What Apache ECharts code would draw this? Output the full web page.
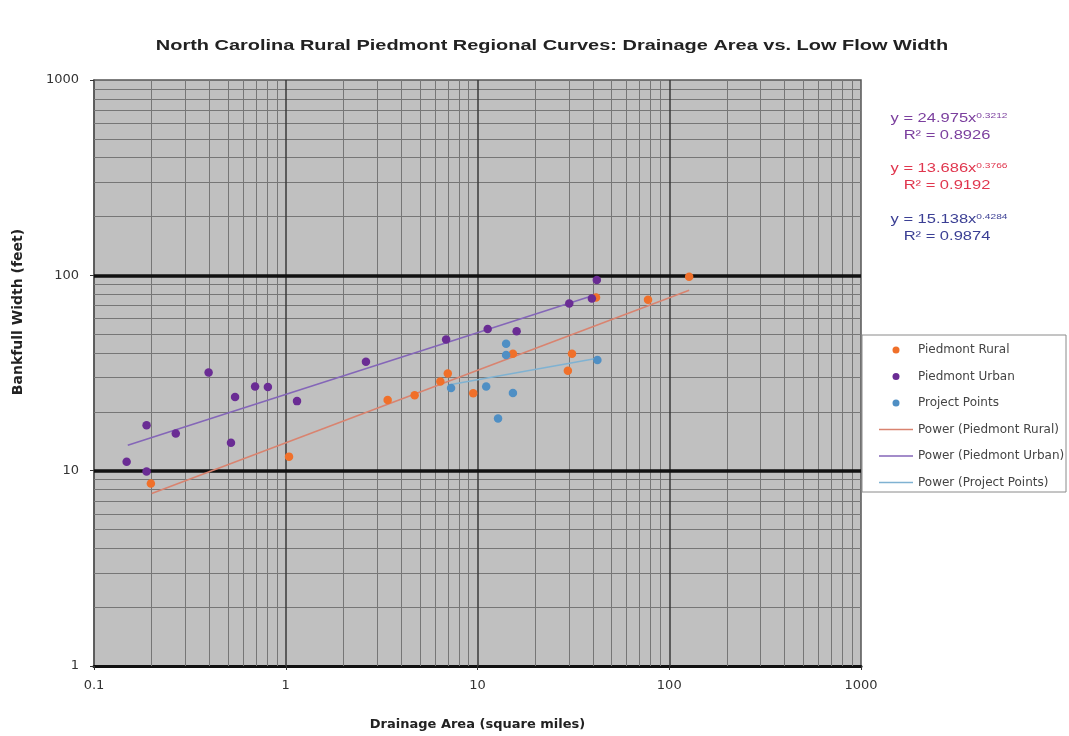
<!DOCTYPE html>
<html><head><meta charset="utf-8">
<script src="https://cdn.jsdelivr.net/npm/echarts@6/dist/echarts.min.js"></script>
<style>html,body{margin:0;padding:0;background:#fff;overflow:hidden}#c{width:1069px;height:736px}</style>
</head><body><div id="c"></div>
<script>
// ---- data ----
const ruralPoints = [[0.198,8.6],[1.04,11.8],[3.4,23.0],[4.7,24.3],[6.4,28.6],[7.0,31.4],[9.5,24.9],[15.3,39.7],[29.6,32.5],[31.1,39.7],[41.5,77],[77.5,75],[127,98.4]];
const urbanPoints = [[0.148,11.1],[0.188,17.1],[0.188,9.9],[0.267,15.5],[0.396,31.8],[0.544,23.8],[0.518,13.9],[0.692,27.0],[0.807,26.8],[1.145,22.7],[2.62,36.1],[6.86,46.9],[11.3,53.1],[16.0,51.7],[30.1,71.8],[39.5,76],[41.9,94.6]];
const projectPoints = [[7.28,26.5],[11.1,27.0],[12.8,18.5],[14.1,44.7],[14.1,39.1],[15.3,25.0],[42.2,36.9]];
const ruralTrend = [[0.2,7.65],[127,83.9]];
const urbanTrend = [[0.15,13.5],[42,80]];
const projectTrend = [[7.28,27.6],[42.2,37.6]];
const xTickLabels = ['0.1','1','10','100','1000'];
const yTickLabels = ['1','10','100','1000'];
const xDecades = [0.1,1,10,100];
const yDecades = [1,10,100];
const mantissas = [2,3,4,5,6,7,8,9];
const seriesNames = ['Piedmont Rural','Piedmont Urban','Project Points','Power (Piedmont Rural)','Power (Piedmont Urban)','Power (Project Points)'];
const equations = [
  {eq:'24.975', exp:'0.3212', r2:'0.8926'},
  {eq:'13.686', exp:'0.3766', r2:'0.9192'},
  {eq:'15.138', exp:'0.4284', r2:'0.9874'}
];
const titleText = 'North Carolina Rural Piedmont Regional Curves: Drainage Area vs. Low Flow Width';

const FONT = 'Liberation Sans, Arial, sans-serif';
const WIDE = 'DejaVu Sans, sans-serif';
const minorLine = {color:'#767676', width:1, type:'solid'};
const gridLines = [];
xDecades.forEach(d => mantissas.forEach(m => gridLines.push({xAxis: +(d*m).toPrecision(3), lineStyle: minorLine})));
yDecades.forEach(d => mantissas.forEach(m => gridLines.push({yAxis: +(d*m).toPrecision(3), lineStyle: minorLine})));
[1,10,100].forEach(v => gridLines.push({xAxis: v, lineStyle:{color:'#3a3a3a', width:1.5, type:'solid'}}));
[10,100].forEach(v => gridLines.push({yAxis: v, lineStyle:{color:'#111', width:3.5, type:'solid'}}));

const chart = echarts.init(document.getElementById('c'));
const eqColors = ['#7b3f9e','#e0364e','#3b3f94'];
const lineColors = ['#d9836f','#8466b8','#7fb2d2'];
const graphics = [
  {type:'rect', z:0, shape:{x:862, y:335, width:204, height:157}, style:{fill:'#fff', stroke:'#8a8a8a', lineWidth:1}},
  {type:'text', x:552, y:46, scaleX:1.33, style:{text:titleText, font:'bold 15px '+FONT, fill:'#222', align:'center', verticalAlign:'middle'}},
  {type:'text', x:18, y:312, rotation:Math.PI/2, style:{text:'Bankfull Width (feet)', font:'bold 14px '+WIDE, fill:'#222', align:'center', verticalAlign:'middle'}}
];
const eqY = [118,168,219];
equations.forEach((e,i) => {
  graphics.push({type:'text', x:949, y:eqY[i], scaleX:1.27, style:{text:'y = '+e.eq+'x{sup|'+e.exp+'}', font:'13px '+FONT, fill:eqColors[i], align:'center', verticalAlign:'middle', rich:{sup:{fontSize:8, verticalAlign:'top', fill:eqColors[i], fontFamily:FONT}}}});
  graphics.push({type:'text', x:947, y:eqY[i]+17, scaleX:1.27, style:{text:'R² = '+e.r2, font:'13px '+FONT, fill:eqColors[i], align:'center', verticalAlign:'middle'}});
});

chart.setOption({
  animation:false,
  backgroundColor:'#fff',
  grid:{left:94, right:208, top:80, bottom:63, show:true, backgroundColor:'#c0c0c0', borderColor:'#555', borderWidth:1.5},
  xAxis:{type:'log', logBase:10, min:0.1, max:1000, interval:1,
    name:'Drainage Area (square miles)', nameLocation:'middle', nameGap:52,
    nameTextStyle:{fontFamily:WIDE, fontSize:13, fontWeight:'bold', color:'#222'},
    axisLine:{show:true, lineStyle:{color:'#111', width:3}},
    axisTick:{show:true, length:4, lineStyle:{color:'#333'}},
    splitLine:{show:false}, minorTick:{show:false},
    axisLabel:{fontFamily:WIDE, fontSize:13, color:'#333', margin:13, formatter:(v,i)=>xTickLabels[i] ?? String(v)}},
  yAxis:{type:'log', logBase:10, min:1, max:1000, interval:1,
    axisLine:{show:true, lineStyle:{color:'#555', width:1.5}},
    axisTick:{show:true, length:4, lineStyle:{color:'#333'}},
    splitLine:{show:false},
    axisLabel:{fontFamily:WIDE, fontSize:13, color:'#333', margin:15, formatter:(v,i)=>yTickLabels[i] ?? String(v)}},
  legend:{orient:'vertical', left:874, top:339, itemWidth:34, itemHeight:7, itemGap:14.5, z:10,
    textStyle:{fontFamily:WIDE, fontSize:12, color:'#444'},
    data:[
      {name:seriesNames[0], icon:'circle'},
      {name:seriesNames[1], icon:'circle'},
      {name:seriesNames[2], icon:'circle'},
      {name:seriesNames[3], icon:'path://M0,0L34,0L34,1.6L0,1.6Z'},
      {name:seriesNames[4], icon:'path://M0,0L34,0L34,1.6L0,1.6Z'},
      {name:seriesNames[5], icon:'path://M0,0L34,0L34,1.6L0,1.6Z'}
    ]},
  graphic:graphics,
  series:[
    {name:'grid', type:'line', data:ruralTrend, z:1, symbol:'none', lineStyle:{opacity:0}, silent:true,
      markLine:{silent:true, z:1, symbol:['none','none'], label:{show:false}, data:gridLines}},
    {name:seriesNames[3], type:'line', data:ruralTrend, z:3, symbol:'none', itemStyle:{color:lineColors[0]}, lineStyle:{color:lineColors[0], width:1.6}},
    {name:seriesNames[4], type:'line', data:urbanTrend, z:3, symbol:'none', itemStyle:{color:lineColors[1]}, lineStyle:{color:lineColors[1], width:1.6}},
    {name:seriesNames[5], type:'line', data:projectTrend, z:3, symbol:'none', itemStyle:{color:lineColors[2]}, lineStyle:{color:lineColors[2], width:1.6}},
    {name:seriesNames[0], type:'scatter', data:ruralPoints, z:4, symbolSize:8.5, itemStyle:{color:'#f0702a', opacity:1}},
    {name:seriesNames[1], type:'scatter', data:urbanPoints, z:4, symbolSize:8.5, itemStyle:{color:'#6a2c94', opacity:1}},
    {name:seriesNames[2], type:'scatter', data:projectPoints, z:4, symbolSize:8.5, itemStyle:{color:'#4f8fc4', opacity:1}}
  ]
});
</script></body></html>
